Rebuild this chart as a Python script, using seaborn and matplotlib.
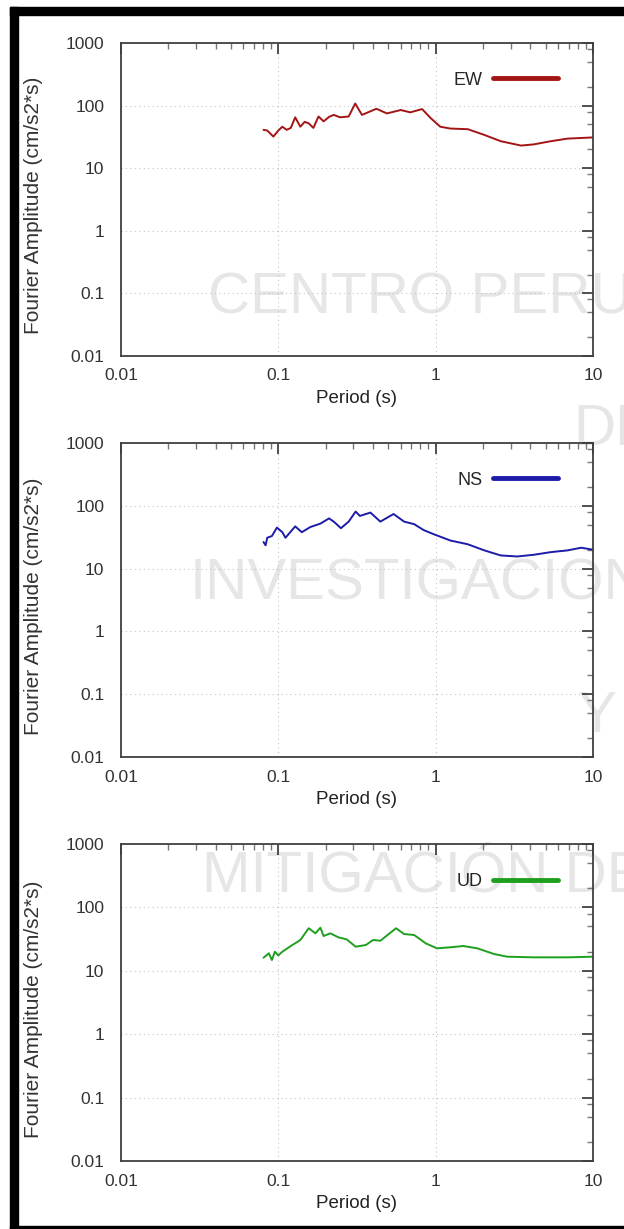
import numpy as np
import matplotlib
matplotlib.use("Agg")
import matplotlib.pyplot as plt
import seaborn as sns
from matplotlib.patches import Rectangle
from matplotlib.ticker import LogLocator, NullFormatter

# Fourier amplitude spectra (period in s, amplitude in cm/s2*s)
ew_period = [0.0805, 0.085, 0.093, 0.1, 0.106, 0.113, 0.12, 0.128, 0.138, 0.147, 0.156,
             0.167, 0.18, 0.194, 0.21, 0.225, 0.247, 0.28, 0.308, 0.34, 0.38, 0.42, 0.49,
             0.6, 0.69, 0.82, 0.93, 1.07, 1.24, 1.6, 2.04, 2.59, 3.49, 4.2, 5.4, 6.9, 10]
ew_amp = [41, 40, 32, 40, 46, 41, 44, 65, 46, 55, 52,
          44, 67, 56, 66, 71, 65, 67, 108, 71, 80, 89, 75,
          85, 78, 88, 63, 46, 43, 42, 34, 27, 23, 24, 27, 29.7, 31]

ns_period = [0.0805, 0.083, 0.085, 0.091, 0.098, 0.106, 0.111, 0.128, 0.141, 0.16, 0.185,
             0.21, 0.225, 0.25, 0.28, 0.31, 0.33, 0.385, 0.445, 0.54, 0.63, 0.73, 0.84,
             0.98, 1.24, 1.6, 2.04, 2.59, 3.3, 4.2, 5.4, 6.9, 8.4, 10]
ns_amp = [26.5, 23.5, 31, 33, 45, 38, 31, 47, 38, 46, 52,
          63, 56, 44, 56, 81, 69, 78, 56, 74, 56, 51, 41,
          35, 28, 24.4, 19.5, 16.2, 15.6, 16.6, 18.3, 19.5, 21.5, 20]

ud_period = [0.0805, 0.084, 0.087, 0.091, 0.095, 0.1, 0.106, 0.12, 0.138, 0.156, 0.172,
             0.185, 0.194, 0.214, 0.241, 0.272, 0.31, 0.36, 0.4, 0.445, 0.56, 0.63, 0.73,
             0.865, 1.02, 1.24, 1.5, 1.84, 2.35, 2.85, 4.2, 6.9, 10]
ud_amp = [16.1, 17.5, 18.9, 14.8, 20, 17.5, 20, 24.6, 30.6, 46.9, 39,
          47.8, 35.4, 39, 33.7, 31.3, 24, 25.5, 30.6, 29.8, 46.9, 38, 36.7,
          27.1, 22.6, 23.5, 24.6, 22.6, 18.4, 16.7, 16.3, 16.3, 16.7]

x_ticks = [0.01, 0.1, 1, 10]
x_labels = ["0.01", "0.1", "1", "10"]
y_ticks = [0.01, 0.1, 1, 10, 100, 1000]
y_labels = ["0.01", "0.1", "1", "10", "100", "1000"]

watermark = ["CENTRO PERUANO", "DE", "INVESTIGACIONES", "Y", "MITIGACIÓN DE"]

sns.set_style("white")
plt.rcParams["font.family"] = ["Liberation Sans", "DejaVu Sans"]

W, H = 624, 1229
fig = plt.figure(figsize=(W / 100, H / 100), dpi=100)
fig.patch.set_facecolor("white")

# watermark behind the plots
wm_pos = [(208, 313), (573, 445), (190, 600), (578, 732), (202, 892)]
for txt, (px, py) in zip(watermark, wm_pos):
    fig.text(px / W, 1 - py / H, txt, fontsize=42, color="#e6e6e6",
             ha="left", va="baseline", zorder=-5)

# black frame of the screenshot
for (x0, y0, w, h) in [(10, 7, 614, 8), (10, 7, 8, 1222), (10, 1226, 614, 3)]:
    fig.add_artist(Rectangle((x0 / W, 1 - (y0 + h) / H), w / W, h / H,
                             transform=fig.transFigure, color="black", zorder=10))


def panel(top, bottom, x, y, color, name):
    ax = fig.add_axes([121 / W, 1 - bottom / H, 472 / W, (bottom - top) / H])
    ax.set_facecolor("none")
    sns.lineplot(x=x, y=y, color=color, lw=1.4, label=name, ax=ax,
                 estimator=None, sort=False)
    ax.set_xscale("log")
    ax.set_yscale("log")
    ax.set_xlim(0.01, 10)
    ax.set_ylim(0.01, 1000)
    ax.set_xticks(x_ticks)
    ax.set_xticklabels(x_labels)
    ax.set_yticks(y_ticks)
    ax.set_yticklabels(y_labels)
    ax.xaxis.set_minor_locator(LogLocator(base=10, subs=np.arange(2, 10), numticks=20))
    ax.yaxis.set_minor_locator(LogLocator(base=10, subs=[2, 5, 8], numticks=20))
    ax.xaxis.set_minor_formatter(NullFormatter())
    ax.yaxis.set_minor_formatter(NullFormatter())
    ax.tick_params(which="both", direction="in", top=True, right=True)
    ax.tick_params(which="major", length=8, width=1.1, color="#222222")
    ax.tick_params(which="minor", length=4.5, width=1, color="#777777")
    ax.tick_params(axis="y", which="major", pad=12, labelsize=12.5, labelcolor="#333333")
    ax.tick_params(axis="x", which="major", pad=9, labelsize=12.5, labelcolor="#333333")
    ax.grid(True, which="major", ls=(0, (1, 3)), color="#c4c4c4", lw=0.8)
    for sp in ax.spines.values():
        sp.set_color("#404040")
        sp.set_linewidth(1.3)
    ax.set_xlabel("Period (s)", fontsize=13.5, color="#222222", labelpad=5)
    ax.set_ylabel("Fourier Amplitude (cm/s2*s)", fontsize=15, color="#333333")
    ax.yaxis.set_label_coords(-0.165, 0.48)
    leg = ax.legend(loc="upper right", frameon=False, markerfirst=False,
                    handlelength=3.6, handletextpad=0.55, fontsize=13,
                    bbox_to_anchor=(0.96, 0.96))
    for ln in leg.get_lines():
        ln.set_linewidth(3.5)
    return ax


panel(43, 356, ew_period, ew_amp, "#a31515", "EW")
panel(443, 757, ns_period, ns_amp, "#1c1ca8", "NS")
panel(844, 1161, ud_period, ud_amp, "#1ea01e", "UD")

fig.savefig("out.png", dpi=100)
